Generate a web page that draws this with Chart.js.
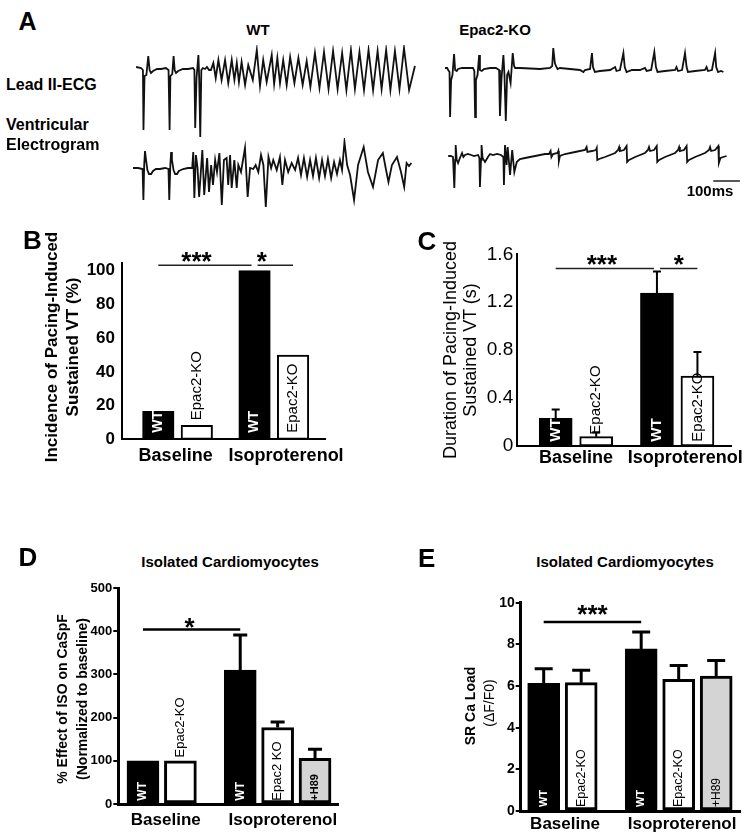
<!DOCTYPE html>
<html><head><meta charset="utf-8">
<script src="https://cdn.jsdelivr.net/npm/chart.js@4.4.0/dist/chart.umd.min.js"></script>
<style>
html,body{margin:0;padding:0;background:#fff;}
#wrap{position:relative;width:750px;height:836px;overflow:hidden;font-family:"Liberation Sans",Arial,sans-serif;color:#000;background:#fff;}
#wrap canvas{position:absolute;}
.t{position:absolute;white-space:nowrap;transform:translate(-50%,-50%);line-height:1;}
</style></head><body><div id="wrap"></div>
<script>
// ---------------- DATA ----------------
// Panel A: traces, time (ms) and amplitude (a.u.)
const WT_ECG_T = [0,19,26,28,32,39,46,51,56,64,79,94,112,122,126,129,136,141,145,150,158,176,195,214,219,222,227,234,237,241,245,251,259,266,274,281,290,299,309,321,334,346,359,369,378,386,396,409,421,438,453,465,477,490,509,518,530,540,552,565,578,594,609,625,640,654,671,688,705,722,739,756,773,789,806,821,838,855,872,889,906,921,938,954,971,988,1005,1024,1046];
const WT_ECG_V = [1,0,-2,-62,-8,-7,12,-2,-5,-3,-1,-1,0,-2,-62,-8,-6,12,-2,-5,-3,-1,-1,0,-2,-60,-10,13,-10,-69,-2,0,-1,1,-2,-2,5,-10,8,-12,8,-15,8,-12,5,-14,6,-17,3,-12,18,-18,8,-14,13,-16,10,-15,8,-17,11,-15,10,-17,7,-19,15,-20,16,-21,17,-21,15,-22,18,-21,16,-22,18,-22,17,-21,18,-22,17,-21,20,-22,2];
const WT_EGM_T = [0,19,36,39,42,45,49,54,60,68,75,86,101,120,133,136,140,143,146,152,158,165,172,188,206,222,226,230,236,242,248,260,267,278,285,293,300,308,315,324,333,341,351,357,364,370,380,389,395,405,420,430,439,451,460,470,480,489,498,508,518,526,539,551,560,570,582,595,608,619,630,641,653,664,675,686,698,709,720,731,743,754,765,776,784,793,803,814,829,844,865,881,900,919,937,949,958,971,990,1005,1017,1026,1035,1044];
const WT_EGM_V = [0,0,-1,-32,3,17,8,-2,-6,-6,-3,-1,-1,0,-1,-32,3,16,8,-2,-6,-6,-3,-1,0,0,16,-30,13,0,-29,18,-27,10,-24,3,-17,8,-4,15,-37,8,10,-17,13,-20,8,-20,3,-4,20,-29,0,-1,3,-4,13,3,-39,11,0,8,-2,11,-17,8,-4,5,-2,10,-7,10,-9,8,-8,10,-10,8,-8,9,-10,6,-6,8,-2,26,3,-7,-32,3,21,-4,-19,8,15,-2,-14,3,11,-4,-19,5,2,5];
const KO_ECG_T = [0,8,12,17,19,23,28,34,38,44,49,64,86,105,110,113,116,122,128,131,138,146,169,191,203,206,212,219,223,228,233,238,246,254,259,263,281,319,356,394,402,406,412,416,422,431,469,506,519,525,544,551,555,562,581,619,638,643,656,669,674,681,701,731,750,756,773,785,791,797,825,863,868,874,889,900,906,911,938,975,981,986,1001,1013,1017,1024,1035,1044];
const KO_ECG_V = [0,0,-2,-4,-49,-12,-7,14,-2,-3,-1,0,0,0,-3,-49,-12,-7,13,-2,-3,-1,0,0,-2,-48,-10,13,-7,-53,-7,-4,-15,15,2,0,0,-0.5,-1,0,2,20,5,2,-1,0,-1,-2,-4,-2,-1,15,1,-4,-3,-2,1,-3,-2,15,1,-4,-2,-2,0,-3,-2,16,1,-4,-3,-2,1,-3,-2,15,1,-4,-3,-2,1,-3,-2,15,1,-4,-3,-4];
const KO_EGM_T = [12,22,30,35,38,40,44,49,56,64,69,75,86,98,109,124,129,131,135,137,141,150,161,169,180,195,210,219,221,225,231,235,244,252,260,269,281,300,338,375,390,396,399,405,422,425,427,431,450,488,525,531,534,551,566,569,571,578,600,638,649,653,656,671,681,683,690,713,750,761,765,769,784,794,796,803,825,863,874,878,881,896,906,908,915,938,975,990,994,998,1013,1025,1027,1033,1043,1056];
const KO_EGM_V = [0,0,-1,-32,-4,11,-4,-7,-2,3,-1,1,2,1,0,1,-2,-31,-4,11,-2,-6,-1,2,1,2,1,-1,-29,11,-9,9,-19,6,-16,-6,-3,-2,0,2,2,5,-1,2,3,5,-5,0,2,4,6,9,4,5,6,8,-4,-3,-1,3,6,9,5,6,10,-6,-4,-1,3,6,9,5,6,10,-6,-4,-1,3,6,9,5,6,10,-6,-4,-1,3,6,9,5,6,10,-7,-2,-1,0];
const SCALE_BAR_START_MS = 1006;
const SCALE_BAR_LEN_MS = 100;
const SCALE_BAR_LEVEL = -25;

// Bar panels
const GROUPS = ['Baseline', 'Isoproterenol'];

const B_LABELS = ['WT', 'Epac2-KO', 'WT', 'Epac2-KO'];
const B_GROUP = [0, 0, 1, 1];
const B_VALUES = [16.6, 8.3, 100, 50];
const B_TICKS = [0, 20, 40, 60, 80, 100];
const B_TICK_LABELS = ['0', '20', '40', '60', '80', '100'];
const B_SIG = [{from: 0, to: 2, level: 103.2, text: '***'}, {from: 2, to: 3, level: 103.2, text: '*'}];

const C_LABELS = ['WT', 'Epac2-KO', 'WT', 'Epac2-KO'];
const C_GROUP = [0, 0, 1, 1];
const C_VALUES = [0.23, 0.078, 1.277, 0.584];
const C_ERRORS = [0.075, 0.036, 0.18, 0.2];
const C_TICKS = [0, 0.4, 0.8, 1.2, 1.6];
const C_TICK_LABELS = ['0', '0.4', '0.8', '1.2', '1.6'];
const C_SIG = [{from: 0, to: 2, level: 1.482, text: '***'}, {from: 2, to: 3, level: 1.482, text: '*'}];

const D_LABELS = ['WT', 'Epac2-KO', 'WT', 'Epac2 KO', '+H89'];
const D_GROUP = [0, 0, 1, 1, 1];
const D_VALUES = [100, 100, 310, 177, 106];
const D_ERRORS = [0, 0, 81, 13, 21];
const D_TICKS = [0, 100, 200, 300, 400, 500];
const D_TICK_LABELS = ['0', '100', '200', '300', '400', '500'];
const D_SIG = [{from: 0, to: 2, level: 404, text: '*'}];

const E_LABELS = ['WT', 'Epac2-KO', 'WT', 'Epac2-KO', '+H89'];
const E_GROUP = [0, 0, 1, 1, 1];
const E_VALUES = [6.13, 6.16, 7.78, 6.32, 6.48];
const E_ERRORS = [0.70, 0.60, 0.81, 0.66, 0.74];
const E_TICKS = [0, 2, 4, 6, 8, 10];
const E_TICK_LABELS = ['0', '2', '4', '6', '8', '10'];
const E_SIG = [{from: 0, to: 2, level: 9.07, text: '***'}];

// ---------------- RENDER ----------------
const FAM = '"Liberation Sans", Arial, sans-serif';
Chart.defaults.font.family = FAM;
Chart.defaults.color = '#000';
const wrap = document.getElementById('wrap');

function addCanvas(l, t, w, h) {
  const c = document.createElement('canvas');
  c.width = w; c.height = h;
  c.style.left = l + 'px'; c.style.top = t + 'px';
  c.style.width = w + 'px'; c.style.height = h + 'px';
  wrap.appendChild(c);
  return c;
}
function txt(s, x, y, font, mode) {
  const d = document.createElement('div');
  d.className = 't'; d.textContent = s;
  d.style.left = x + 'px'; d.style.top = y + 'px'; d.style.font = font;
  if (mode === 'rot') d.style.transform = 'translate(-50%,-50%) rotate(-90deg)';
  if (mode === 'left') d.style.transform = 'translate(0,-50%)';
  wrap.appendChild(d);
}

// ---- Panel A traces ----
const MS_PER_PX = 3.75;
function trace(l, t, w, h, T, V, yMin, yMax, extra) {
  const c = addCanvas(l, t, w, h);
  const datasets = [{
    data: T.map((x, i) => ({x, y: V[i]})),
    showLine: true, pointRadius: 0, borderColor: '#111', borderWidth: 1.8,
    tension: 0, clip: false
  }];
  if (extra) datasets.push(extra);
  new Chart(c, {
    type: 'scatter',
    data: {datasets},
    options: {
      responsive: false, animation: false, devicePixelRatio: 1,
      layout: {padding: 0},
      plugins: {legend: {display: false}, tooltip: {enabled: false}},
      scales: {
        x: {type: 'linear', display: false, min: 0, max: w * MS_PER_PX},
        y: {type: 'linear', display: false, min: yMin, max: yMax}
      }
    }
  });
}
trace(136, 45, 280, 95, WT_ECG_T, WT_ECG_V, -72, 23);
trace(133, 138, 285, 72, WT_EGM_T, WT_EGM_V, -42, 30);
trace(445, 45, 290, 80, KO_ECG_T, KO_ECG_V, -57, 23);
trace(445, 138, 300, 67, KO_EGM_T, KO_EGM_V, -49, 18, {
  data: [{x: SCALE_BAR_START_MS, y: SCALE_BAR_LEVEL}, {x: SCALE_BAR_START_MS + SCALE_BAR_LEN_MS, y: SCALE_BAR_LEVEL}],
  showLine: true, pointRadius: 0, borderColor: '#222', borderWidth: 1.5, clip: false
});

txt('A', 27.5, 21, 'bold 25px ' + FAM);
txt('WT', 258, 29, 'bold 15px ' + FAM);
txt('Epac2-KO', 495, 29, 'bold 15px ' + FAM);
txt('Lead II-ECG', 6, 85, 'bold 16px ' + FAM, 'left');
txt('Ventricular', 6, 125, 'bold 16px ' + FAM, 'left');
txt('Electrogram', 6, 145, 'bold 16px ' + FAM, 'left');
txt('100ms', 710, 190, 'bold 15px ' + FAM);

// ---- bar decoration plugin ----
const barDecor = {
  id: 'barDecor',
  afterDatasetsDraw(chart) {
    const o = chart.options.plugins.barDecor;
    if (!o || !o.labels) return;
    const ctx = chart.ctx;
    const meta = chart.getDatasetMeta(0);
    const ys = chart.scales.y;
    const vals = chart.data.datasets[0].data.map(d => d.y);
    const zero = ys.getPixelForValue(0);
    ctx.save();
    // error bars
    if (o.errors) {
      ctx.strokeStyle = '#000'; ctx.lineWidth = o.errWidth; ctx.lineCap = 'butt';
      meta.data.forEach((bar, i) => {
        const e = o.errors[i];
        if (!e) return;
        const yb = ys.getPixelForValue(vals[i]);
        const yt = ys.getPixelForValue(vals[i] + e);
        ctx.beginPath();
        ctx.moveTo(bar.x, yb); ctx.lineTo(bar.x, yt);
        ctx.moveTo(bar.x - o.cap / 2, yt); ctx.lineTo(bar.x + o.cap / 2, yt);
        ctx.stroke();
      });
    }
    // rotated bar labels
    meta.data.forEach((bar, i) => {
      const lab = o.labels[i];
      const isWT = lab === 'WT';
      const isDrug = lab.charAt(0) === '+';
      ctx.font = isWT ? o.fontWT : (isDrug ? o.fontDrug : o.fontKO);
      ctx.fillStyle = isWT ? '#fff' : '#000';
      const tw = ctx.measureText(lab).width;
      const top = ys.getPixelForValue(vals[i]);
      let start;
      if (zero - top >= 0.8 * tw + o.pad) start = zero - o.pad;
      else start = top - o.gapAbove;
      ctx.save();
      ctx.translate(bar.x, start);
      ctx.rotate(-Math.PI / 2);
      ctx.textAlign = 'left'; ctx.textBaseline = 'middle';
      ctx.fillText(lab, 0, 0);
      ctx.restore();
    });
    // significance lines
    if (o.sig) {
      o.sig.forEach((s, k) => {
        let x1 = meta.data[s.from].x, x2 = meta.data[s.to].x;
        if (o.sig.some(q => q !== s && q.from === s.to)) x2 -= 3;
        if (o.sig.some(q => q !== s && q.to === s.from)) x1 += 3;
        const y = ys.getPixelForValue(s.level);
        ctx.strokeStyle = o.sigColor; ctx.lineWidth = o.sigWidth;
        ctx.beginPath(); ctx.moveTo(x1, y); ctx.lineTo(x2, y); ctx.stroke();
        ctx.font = 'bold ' + o.starSize + 'px ' + FAM;
        ctx.fillStyle = '#000'; ctx.textAlign = 'center'; ctx.textBaseline = 'alphabetic';
        const frac = o.starFrac[k];
        ctx.fillText(s.text, x1 + frac * (x2 - x1), y - o.starGap + 0.57 * o.starSize);
      });
    }
    ctx.restore();
  }
};

function colorFor(lab) {
  if (lab === 'WT') return '#000';
  if (lab.charAt(0) === '+') return '#d4d4d4';
  return '#fff';
}

function barPanel(p) {
  const c = addCanvas(p.l, p.t, p.w, p.h);
  const pos = p.labels.map((_, i) => i + p.group[i] * p.groupExtra);
  const centers = GROUPS.map((g, gi) => {
    const ps = pos.filter((_, i) => p.group[i] === gi);
    return (Math.min(...ps) + Math.max(...ps)) / 2 + p.labelShift[gi];
  });
  new Chart(c, {
    type: 'bar',
    data: {datasets: [{
      data: p.values.map((v, i) => ({x: pos[i], y: v})),
      backgroundColor: p.labels.map(colorFor),
      borderColor: '#000', borderWidth: p.barBorder, borderSkipped: false,
      barThickness: p.barW, grouped: false
    }]},
    options: {
      responsive: false, animation: false, devicePixelRatio: 1,
      layout: {padding: {top: p.padTop, right: p.padRight, left: 0, bottom: 0}},
      plugins: {legend: {display: false}, tooltip: {enabled: false}, barDecor: p.decor},
      scales: {
        x: {
          type: 'linear', min: p.xMin, max: p.xMax, offset: false, bounds: 'data',
          grid: {display: false, drawTicks: false},
          border: {display: true, color: '#000', width: p.axisW},
          afterBuildTicks: s => { s.ticks = centers.map(v => ({value: v})); },
          ticks: {
            autoSkip: false, maxRotation: 0, minRotation: 0, padding: p.xPad,
            font: {size: p.xFont, weight: 'bold'}, color: '#000',
            callback: (v, i) => GROUPS[i]
          },
          afterFit: s => { s.height = p.xAxisH; s.paddingLeft = 0; s.paddingRight = 0; }
        },
        y: {
          type: 'linear', min: 0, max: p.yMax, bounds: 'data',
          grid: {display: p.tickLen > 0, drawOnChartArea: false, drawTicks: p.tickLen > 0,
                 tickLength: p.tickLen, color: '#000', lineWidth: 2},
          border: {display: true, color: '#000', width: p.axisW},
          afterBuildTicks: s => { s.ticks = p.ticks.map(v => ({value: v})); },
          ticks: {
            padding: p.yPad, color: '#000',
            font: {size: p.yFont, weight: p.yBold ? 'bold' : 'normal'},
            callback: (v, i) => p.tickLabels[i]
          },
          afterFit: s => { s.width = p.yAxisW; s.paddingTop = 0; s.paddingBottom = 0; }
        }
      }
    },
    plugins: [barDecor]
  });
}

// Panel B
barPanel({
  l: 0, t: 245, w: 360, h: 232, yAxisW: 122, padRight: 35, padTop: 17.7, xAxisH: 37.7,
  xMin: -0.943, xMax: 4.33, yMax: 104.7, groupExtra: 0.5, barW: 31.5, barBorder: 2, axisW: 2,
  labelShift: [-0.05, 0.32],
  labels: B_LABELS, group: B_GROUP, values: B_VALUES, ticks: B_TICKS, tickLabels: B_TICK_LABELS,
  yFont: 17, yBold: true, yPad: 7, tickLen: 0, xFont: 18, xPad: 6,
  decor: {labels: B_LABELS, fontWT: 'bold 14px ' + FAM, fontKO: '15px ' + FAM, fontDrug: '15px ' + FAM,
          pad: 6.5, gapAbove: 5, sig: B_SIG, sigWidth: 1.5, sigColor: '#222', starSize: 26,
          starGap: 9.6, starFrac: [0.41, 0.12]}
});
// Panel C
barPanel({
  l: 400, t: 245, w: 350, h: 232, yAxisW: 116.7, padRight: 18.3, padTop: 9.3, xAxisH: 31,
  xMin: -0.963, xMax: 4.346, yMax: 1.6, groupExtra: 0.5, barW: 33, barBorder: 2, axisW: 2,
  labelShift: [0, 0.2],
  labels: C_LABELS, group: C_GROUP, values: C_VALUES, ticks: C_TICKS, tickLabels: C_TICK_LABELS,
  yFont: 19, yBold: false, yPad: 3.5, tickLen: 0, xFont: 18, xPad: 1,
  decor: {labels: C_LABELS, fontWT: 'bold 15px ' + FAM, fontKO: '15px ' + FAM, fontDrug: '15px ' + FAM,
          pad: 4.3, gapAbove: 2, errors: C_ERRORS, errWidth: 2, cap: 8,
          sig: C_SIG, sigWidth: 1.5, sigColor: '#222', starSize: 26, starGap: 10.7, starFrac: [0.47, 0.5]}
});
// Panel D
barPanel({
  l: 0, t: 575, w: 360, h: 260, yAxisW: 118.3, padRight: 22, padTop: 13, xAxisH: 31,
  xMin: -0.66, xMax: 5.214, yMax: 500, groupExtra: 0.6, barW: 32, barBorder: 3, axisW: 3,
  labelShift: [0.11, 0.14],
  labels: D_LABELS, group: D_GROUP, values: D_VALUES, ticks: D_TICKS, tickLabels: D_TICK_LABELS,
  yFont: 13, yBold: true, yPad: 1, tickLen: 5, xFont: 17, xPad: 6,
  decor: {labels: D_LABELS, fontWT: 'bold 12px ' + FAM, fontKO: '13px ' + FAM, fontDrug: 'bold 11px ' + FAM,
          pad: 3.3, gapAbove: 3.4, errors: D_ERRORS, errWidth: 3, cap: 14,
          sig: D_SIG, sigWidth: 2.5, sigColor: '#000', starSize: 26, starGap: 8.3, starFrac: [0.48]}
});
// Panel E
barPanel({
  l: 400, t: 575, w: 350, h: 260, yAxisW: 120.7, padRight: 10, padTop: 27.7, xAxisH: 24,
  xMin: -0.613, xMax: 5.235, yMax: 10, groupExtra: 0.6, barW: 32, barBorder: 3, axisW: 3,
  labelShift: [0.07, 0.09],
  labels: E_LABELS, group: E_GROUP, values: E_VALUES, ticks: E_TICKS, tickLabels: E_TICK_LABELS,
  yFont: 14, yBold: true, yPad: 1, tickLen: 5, xFont: 17, xPad: 3,
  decor: {labels: E_LABELS, fontWT: 'bold 11px ' + FAM, fontKO: '12.5px ' + FAM, fontDrug: '12px ' + FAM,
          pad: 4, gapAbove: 3, errors: E_ERRORS, errWidth: 3, cap: 18,
          sig: E_SIG, sigWidth: 2.5, sigColor: '#000', starSize: 26, starGap: 14, starFrac: [0.5]}
});

// Panel letters, titles, axis titles
txt('B', 32.5, 240, 'bold 26px ' + FAM);
txt('C', 427, 241, 'bold 26px ' + FAM);
txt('D', 28, 557, 'bold 26px ' + FAM);
txt('E', 426.7, 558, 'bold 26px ' + FAM);
txt('Incidence of Pacing-Induced', 52, 347, 'bold 17px ' + FAM, 'rot');
txt('Sustained VT (%)', 73, 347, 'bold 17px ' + FAM, 'rot');
txt('Duration of Pacing-Induced', 450, 350, '18px ' + FAM, 'rot');
txt('Sustained VT (s)', 470, 350, '18px ' + FAM, 'rot');
txt('Isolated Cardiomyocytes', 230, 561, 'bold 15px ' + FAM);
txt('% Effect of ISO on CaSpF', 61.7, 699, 'bold 14px ' + FAM, 'rot');
txt('(Normalized to baseline)', 81.7, 699, 'bold 14px ' + FAM, 'rot');
txt('Isolated Cardiomyocytes', 625, 561, 'bold 15px ' + FAM);
txt('SR Ca Load', 470, 705.7, 'bold 14px ' + FAM, 'rot');
txt('(\u0394F/F0)', 489, 703, '14px ' + FAM, 'rot');
</script>
</body></html>
